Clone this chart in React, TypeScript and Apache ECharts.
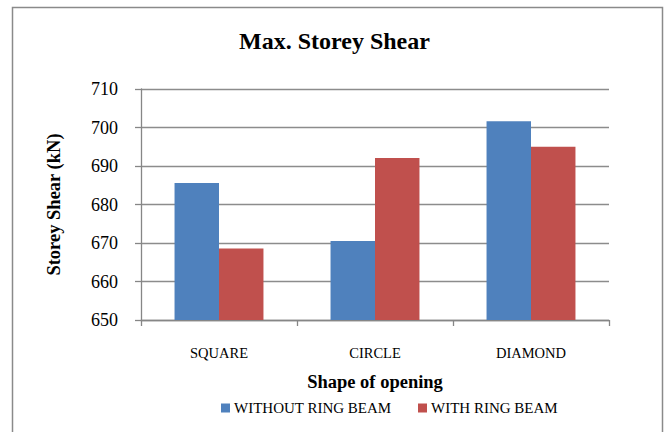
import React, { useEffect, useRef } from "react";
import * as echarts from "echarts";

const categories = ["SQUARE", "CIRCLE", "DIAMOND"];
const withoutRingBeam = [685.6, 670.5, 701.6];
const withRingBeam = [668.6, 692.1, 695.0];
const seriesNames = ["WITHOUT RING BEAM", "WITH RING BEAM"];
const seriesColors = ["#4F81BD", "#C0504D"];
const yMin = 650;
const yMax = 710;
const yStep = 10;

const FONT = "Liberation Serif";

export default function App() {
  const ref = useRef<HTMLDivElement>(null);
  useEffect(() => {
    if (!ref.current) return;
    const chart = echarts.init(ref.current, null, { renderer: "svg" });
    const legendX = [221, 418];
    const legendY = 408;
    const legendGraphics = seriesNames.flatMap((name, i) => [
      {
        type: "rect",
        shape: { x: legendX[i], y: legendY - 4.5, width: 9, height: 9 },
        style: { fill: seriesColors[i] },
        silent: true,
      },
      {
        type: "text",
        x: legendX[i] + 13,
        y: legendY,
        style: {
          text: name,
          font: `15px "${FONT}"`,
          fill: "#000",
          verticalAlign: "middle",
        },
        silent: true,
      },
    ]);
    chart.setOption({
      animation: false,
      backgroundColor: "#ffffff",
      textStyle: { fontFamily: FONT, color: "#000" },
      title: {
        text: "Max. Storey Shear",
        left: "center",
        top: 24,
        textStyle: { fontFamily: FONT, fontSize: 24, fontWeight: "bold", color: "#000" },
      },
      graphic: [
        {
          type: "rect",
          shape: { x: 12.5, y: 7.5, width: 650, height: 440 },
          style: { fill: "none", stroke: "#8a8a8a", lineWidth: 1.5 },
          silent: true,
        },
        ...legendGraphics,
      ],
      legend: { show: false },
      grid: { left: 141, top: 89, width: 468, height: 231, containLabel: false },
      xAxis: {
        type: "category",
        data: categories,
        name: "Shape of opening",
        nameLocation: "middle",
        nameGap: 52,
        nameTextStyle: { fontFamily: FONT, fontSize: 18.5, fontWeight: "bold", color: "#000" },
        axisLine: { lineStyle: { color: "#868686", width: 1.3 } },
        axisTick: { show: true, length: 6, lineStyle: { color: "#868686", width: 1.3 } },
        axisLabel: { fontFamily: FONT, fontSize: 14.5, color: "#000", margin: 25 },
      },
      yAxis: {
        type: "value",
        min: yMin,
        max: yMax,
        interval: yStep,
        name: "Storey Shear (kN)",
        nameLocation: "middle",
        nameGap: 78,
        nameTextStyle: { fontFamily: FONT, fontSize: 18.5, fontWeight: "bold", color: "#000" },
        axisLine: { show: true, lineStyle: { color: "#868686", width: 1.3 } },
        axisTick: { show: true, length: 6, lineStyle: { color: "#868686", width: 1.3 } },
        axisLabel: { fontFamily: FONT, fontSize: 18, color: "#000", margin: 23 },
        splitLine: { lineStyle: { color: "#8c8c8c", width: 1.3 } },
      },
      series: [
        {
          name: seriesNames[0],
          type: "bar",
          data: withoutRingBeam,
          barGap: "0%",
          barCategoryGap: "43%",
          itemStyle: { color: seriesColors[0] },
        },
        {
          name: seriesNames[1],
          type: "bar",
          data: withRingBeam,
          itemStyle: { color: seriesColors[1] },
        },
      ],
    });
    return () => chart.dispose();
  }, []);
  return (
    <div
      ref={ref}
      style={{ position: "absolute", left: 0, top: 0, width: 669, height: 432 }}
    />
  );
}
